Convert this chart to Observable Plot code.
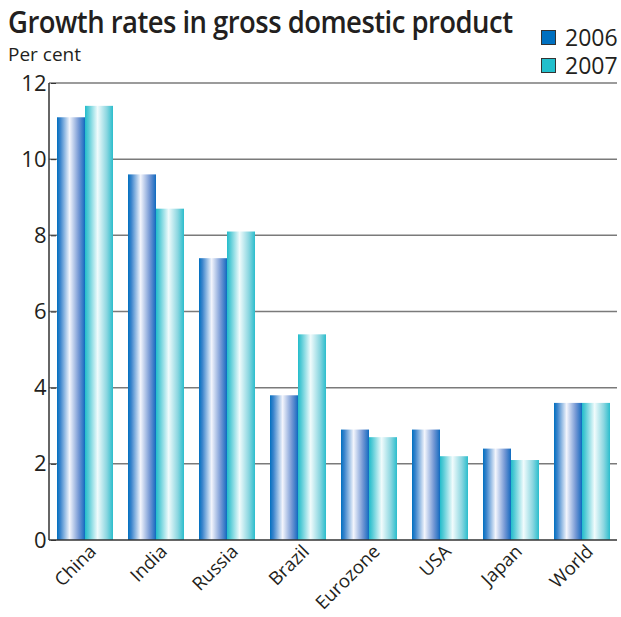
<!DOCTYPE html>
<html>
<head>
<meta charset="utf-8">
<script src="https://cdn.jsdelivr.net/npm/d3@7"></script>
<script src="https://cdn.jsdelivr.net/npm/@observablehq/plot@0.6"></script>
<style>
  html, body { margin: 0; padding: 0; background: #fff; overflow: hidden; }
  #wrap { position: relative; width: 621px; font-family: "Open Sans", sans-serif; color: #231f20; }
  #head { position: relative; height: 65px; z-index: 2; }
  #title { position: absolute; left: 8px; top: 0px; font-size: 31px; font-weight: 600; letter-spacing: -0.6px; white-space: nowrap; transform: scaleX(0.886); transform-origin: left top; }
  #unit { position: absolute; left: 8px; top: 41px; font-size: 19px; }
  .leg { position: absolute; left: 541px; font-size: 23px; display: flex; align-items: center; line-height: 24px; }
  .sw { width: 13px; height: 13px; border: 1px solid #333; margin-right: 9px; }
  #chart { position: relative; height: 552px; z-index: 1; }
  #chart svg { display: block; }
</style>
</head>
<body>
<div id="wrap">
  <div id="head">
    <div id="title">Growth rates in gross domestic product</div>
    <div id="unit">Per cent</div>
    <div class="leg" style="top:25px"><div class="sw" style="background:#0070c0"></div>2006</div>
    <div class="leg" style="top:53px"><div class="sw" style="background:#22bfcc"></div>2007</div>
  </div>
  <div id="chart"></div>
</div>
<script>
const countries = ["China", "India", "Russia", "Brazil", "Eurozone", "USA", "Japan", "World"];
const years = ["2006", "2007"];
const growth2006 = [11.1, 9.6, 7.4, 3.8, 2.9, 2.9, 2.4, 3.6];
const growth2007 = [11.4, 8.7, 8.1, 5.4, 2.7, 2.2, 2.1, 3.6];
const yTicks = [0, 2, 4, 6, 8, 10, 12];

const data = [];
countries.forEach((c, i) => {
  data.push({country: c, year: "2006", value: growth2006[i]});
  data.push({country: c, year: "2007", value: growth2007[i]});
});

const plot = Plot.plot({
  width: 621,
  height: 552,
  marginTop: 18,
  marginBottom: 77,
  marginLeft: 49,
  marginRight: 4,
  style: {fontFamily: "Open Sans, sans-serif", color: "#231f20", background: "transparent", overflow: "visible"},
  fx: {domain: countries, paddingInner: 0.2, paddingOuter: 0.1, label: null},
  x: {domain: years, padding: 0, axis: null},
  y: {domain: [0, 12], label: null},
  marks: [
    Plot.barY(data.filter(d => d.year === "2006"), {fx: "country", x: "year", y: "value", fill: "url(#g2006)", inset: 0}),
    Plot.barY(data.filter(d => d.year === "2007"), {fx: "country", x: "year", y: "value", fill: "url(#g2007)", inset: 0}),
    Plot.axisY({ticks: yTicks, tickSize: 5, tickPadding: 5, fontSize: 22, label: null, stroke: "#333"}),
    Plot.axisFx({anchor: "bottom", tickRotate: -45, tickSize: 0, tickPadding: 8, dx: 8, fontSize: 18.5, label: null})
  ]
});

const svg = d3.select(plot);
const defs = svg.insert("defs", ":first-child");
const g1 = defs.append("linearGradient").attr("id", "g2006").attr("x1", "0").attr("x2", "1").attr("y1", "0").attr("y2", "0");
[[0, "#0070c0"], [0.12, "#3a84cc"], [0.45, "#f3f5fc"], [0.78, "#7397d4"], [0.95, "#2a74c4"], [1, "#0a6cc0"]]
  .forEach(([o, c]) => g1.append("stop").attr("offset", o).attr("stop-color", c));
const g2 = defs.append("linearGradient").attr("id", "g2007").attr("x1", "0").attr("x2", "1").attr("y1", "0").attr("y2", "0");
[[0, "#22bccb"], [0.12, "#55cbd6"], [0.45, "#f0fbfc"], [0.78, "#8ad6e0"], [1, "#2bbdcc"]]
  .forEach(([o, c]) => g2.append("stop").attr("offset", o).attr("stop-color", c));

// full-width grid lines (behind bars) and axis lines, positioned through Plot's y scale
const ys = plot.scale("y");
const x0 = 49, x1 = 621 - 4;
const grid = svg.insert("g", "defs + *");
grid.selectAll("line").data(yTicks.filter(d => d > 0)).join("line")
  .attr("x1", x0).attr("x2", x1)
  .attr("y1", d => ys.apply(d)).attr("y2", d => ys.apply(d))
  .attr("stroke", "#7a7a7a").attr("stroke-width", 1.5);
svg.append("line")
  .attr("x1", x0).attr("x2", x1)
  .attr("y1", ys.apply(0)).attr("y2", ys.apply(0))
  .attr("stroke", "#333").attr("stroke-width", 1.5);
svg.append("line")
  .attr("x1", x0).attr("x2", x0)
  .attr("y1", ys.apply(12)).attr("y2", ys.apply(0))
  .attr("stroke", "#333").attr("stroke-width", 1.5);

document.getElementById("chart").appendChild(plot);
</script>
</body>
</html>
